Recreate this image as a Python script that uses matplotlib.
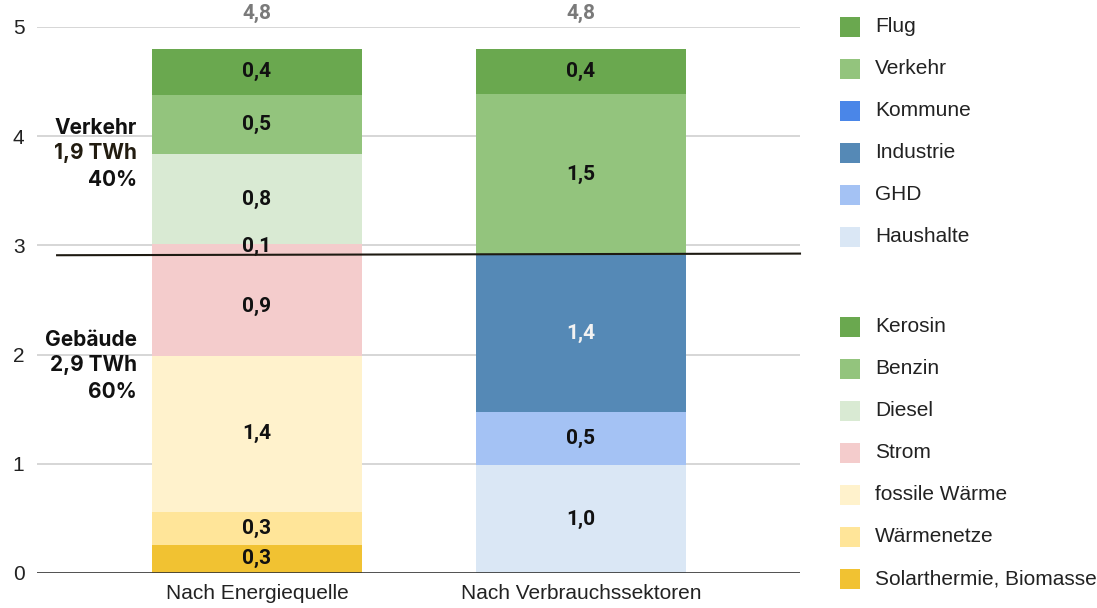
import matplotlib
matplotlib.use("Agg")
import matplotlib.pyplot as plt
from matplotlib.patches import Rectangle

# Data (TWh)
categories = ["Nach Energiequelle", "Nach Verbrauchssektoren"]

# Left bar: by energy source, bottom to top
source_names = ["Solarthermie, Biomasse", "Wärmenetze", "fossile Wärme", "Strom",
                "Strom Verkehr", "Diesel", "Benzin", "Kerosin"]
source_values = [0.26, 0.30, 1.43, 0.91, 0.11, 0.83, 0.54, 0.42]
source_labels = ["0,3", "0,3", "1,4", "0,9", "0,1", "0,8", "0,5", "0,4"]
source_colors = ["#f1c232", "#ffe599", "#fff2cc", "#f4cccc", "#f4cccc",
                 "#d9ead3", "#93c47d", "#6aa84f"]

# Right bar: by consumption sector, bottom to top
sector_names = ["Haushalte", "GHD", "Industrie", "Kommune", "Verkehr", "Flug"]
sector_values = [0.99, 0.48, 1.44, 0.0, 1.48, 0.41]
sector_labels = ["1,0", "0,5", "1,4", "", "1,5", "0,4"]
sector_colors = ["#dae7f5", "#a4c2f4", "#5589b6", "#4a86e8", "#93c47d", "#6aa84f"]
sector_text_colors = ["#111111", "#111111", "#f2f2f2", "#111111", "#111111", "#111111"]

totals = ["4,8", "4,8"]
split_value = [2.91, 2.925]   # boundary Gebäude / Verkehr
y_ticks = [0, 1, 2, 3, 4, 5]

legend_top = ["Flug", "Verkehr", "Kommune", "Industrie", "GHD", "Haushalte"]
legend_top_colors = ["#6aa84f", "#93c47d", "#4a86e8", "#5589b6", "#a4c2f4", "#dae7f5"]
legend_bottom = ["Kerosin", "Benzin", "Diesel", "Strom", "fossile Wärme",
                 "Wärmenetze", "Solarthermie, Biomasse"]
legend_bottom_colors = ["#6aa84f", "#93c47d", "#d9ead3", "#f4cccc", "#fff2cc",
                        "#ffe599", "#f1c232"]

plt.rcParams["font.family"] = ["Liberation Sans", "DejaVu Sans"]

fig = plt.figure(figsize=(10.97, 6.08), dpi=100)
ax = fig.add_axes([37 / 1097, 35 / 608, 763 / 1097, 546 / 608])
ax.set_xlim(-0.679, 1.676)
ax.set_ylim(0, 5)

bar_w = 0.648
label_family = ["Roboto", "DejaVu Sans"]
ann_family = ["Inter", "Roboto", "DejaVu Sans"]
label_font = dict(family=label_family, fontweight="bold", fontsize=15)

def stack(x, values, colors, labels, text_colors=None, offsets=None):
    bottom = 0.0
    for i, (v, c, lab) in enumerate(zip(values, colors, labels)):
        if v > 0:
            ax.bar(x, v, bottom=bottom, width=bar_w, color=c, linewidth=0, zorder=2)
        if lab:
            tc = text_colors[i] if text_colors else "#111111"
            dy = offsets[i] if offsets else 0.0
            ax.text(x, bottom + v / 2 + dy, lab, ha="center", va="center",
                    color=tc, zorder=4, **label_font)
        bottom += v
    return bottom

src_offsets = [0, 0, 0, 0, 0.04, 0, 0, 0]
top0 = stack(0, source_values, source_colors, source_labels, offsets=src_offsets)
top1 = stack(1, sector_values, sector_colors, sector_labels, sector_text_colors)

for x, t, lab in zip([0, 1], [top0, top1], totals):
    ax.text(x, 5.12, lab, ha="center", va="center", color="#7a7a7a",
            fontweight="bold", fontsize=15, family=label_family, clip_on=False)

# grid and axis
for y in y_ticks[1:]:
    ax.axhline(y, color="#d0d0d0", linewidth=1.2, zorder=1)
ax.axhline(0, color="#333333", linewidth=1.2, zorder=3)
for s in ax.spines.values():
    s.set_visible(False)
ax.set_yticks(y_ticks)
ax.set_yticklabels([str(t) for t in y_ticks], fontsize=15, color="#222222")
ax.tick_params(axis="y", length=0, pad=9)
ax.set_xticks([0, 1])
ax.set_xticklabels(categories, fontsize=15, color="#222222")
ax.tick_params(axis="x", length=0, pad=8)

# split line between Gebäude and Verkehr
ax.plot([-0.617, 1.676], split_value, color="#1e1a12", linewidth=1.5, zorder=5,
        clip_on=False)

# sector annotations
ann_font = dict(family=ann_family, fontweight="bold", fontsize=15,
                color="#111111", ha="right", va="center")
ax.text(-0.370, 4.075, "Verkehr", **ann_font)
ax.text(-0.370, 3.846, "1,9 TWh", **{**ann_font, "color": "#221c10"})
ax.text(-0.370, 3.60, "40%", **ann_font)
ax.text(-0.370, 2.134, "Gebäude", **ann_font)
ax.text(-0.370, 1.905, "2,9 TWh", **ann_font)
ax.text(-0.370, 1.657, "60%", **ann_font)

# legend
def legend_item(y_px, name, color):
    fy = 1 - y_px / 608
    fig.patches.append(Rectangle((840 / 1097, fy - 10 / 608), 20 / 1097, 20 / 608,
                                 transform=fig.transFigure, color=color,
                                 linewidth=0))
    fig.text(875 / 1097, fy, name, fontsize=15, color="#222222", va="center")

for i, (n, c) in enumerate(zip(legend_top, legend_top_colors)):
    legend_item(27 + i * 42, n, c)
for i, (n, c) in enumerate(zip(legend_bottom, legend_bottom_colors)):
    legend_item(327 + i * 42, n, c)

fig.savefig("out.png", dpi=100, facecolor="white")
